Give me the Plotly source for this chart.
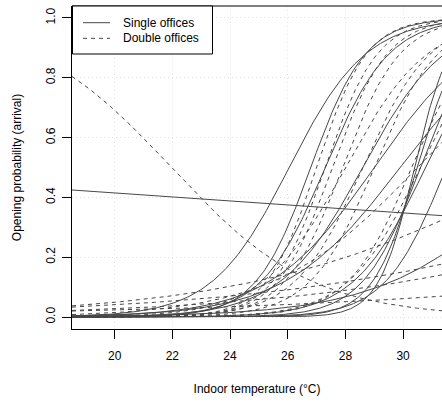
import numpy as np
import plotly.graph_objects as go

# Logistic curves: p = 1 / (1 + exp(-slope * (T - midpoint)))
# Parameters (midpoint temperature in °C, slope per °C)
single_mid = [26.05, 26.8, 27.3, 28.6, 29.0, 29.9, 30.6, 30.48, 30.4, 30.78, 31.5, 34.8, 7.85]
single_slope = [0.75, 1.05, 0.9, 0.7, 0.55, 0.5, 1.0, 1.3, 1.6, 0.8, 0.95, 0.387, -0.0284]

double_mid = [27.0, 27.3, 27.55, 27.9, 28.0, 28.6, 29.0, 30.3, 30.6, 30.5, 35.1, 42.1, 43.0, 57.0, 21.97]
double_slope = [1.15, 1.1, 1.05, 1.0, 0.7, 0.85, 0.9, 0.9, 0.8, 0.4, 0.196, 0.143, 0.155, 0.101, -0.41]

series_names = ["Single offices", "Double offices"]
x_ticks = [20, 22, 24, 26, 28, 30]
y_ticks = [0.0, 0.2, 0.4, 0.6, 0.8, 1.0]
x_range = [18.52, 31.35]
y_range = [-0.04, 1.04]

temps = np.linspace(x_range[0], x_range[1], 260)


def build(mids, slopes):
    xs, ys = [], []
    for m, s in zip(mids, slopes):
        p = 1.0 / (1.0 + np.exp(-s * (temps - m)))
        xs.extend(temps.tolist() + [None])
        ys.extend(p.tolist() + [None])
    return xs, ys


line_col = "#474747"
dash_pat = "4px,4px"
fig = go.Figure()
sx, sy = build(single_mid, single_slope)
dx, dy = build(double_mid, double_slope)
fig.add_trace(go.Scatter(x=sx, y=sy, mode="lines", name=series_names[0], showlegend=False,
                         line=dict(color=line_col, width=1)))
fig.add_trace(go.Scatter(x=dx, y=dy, mode="lines", name=series_names[1], showlegend=False,
                         line=dict(color=line_col, width=1, dash=dash_pat)))

font = dict(family="Liberation Sans, Arial, Helvetica, sans-serif", size=12, color="black")

# Plot area in pixels: x 72..442, y 6..329
L, T, B, W = 72.0, 6.0, 329.0, 370.0
H = B - T


def px(x):
    return (x - L) / W


def py(y):
    return (B - y) / H


shapes = [
    dict(type="line", xref="paper", yref="paper", x0=0, x1=1, y0=1, y1=1,
         line=dict(color="black", width=1)),
    # legend box
    dict(type="rect", xref="paper", yref="paper", x0=px(72.5), x1=px(212.5), y0=py(54), y1=1,
         fillcolor="white", line=dict(color="black", width=1), layer="above"),
    dict(type="line", xref="paper", yref="paper", x0=px(83), x1=px(110), y0=py(22.7), y1=py(22.7),
         line=dict(color=line_col, width=1), layer="above"),
    dict(type="line", xref="paper", yref="paper", x0=px(83), x1=px(110), y0=py(38.3), y1=py(38.3),
         line=dict(color=line_col, width=1, dash=dash_pat), layer="above"),
]
annotations = [
    dict(xref="paper", yref="paper", x=px(120.5), y=py(22.7), text=series_names[0], showarrow=False,
         xanchor="left", yanchor="middle", font=dict(size=12, color="black")),
    dict(xref="paper", yref="paper", x=px(120.5), y=py(38.3), text=series_names[1], showarrow=False,
         xanchor="left", yanchor="middle", font=dict(size=12, color="black")),
]

fig.update_layout(
    width=442, height=403,
    margin=dict(l=72, r=0, t=6, b=74),
    paper_bgcolor="white", plot_bgcolor="white",
    font=font,
    showlegend=False,
    xaxis=dict(range=x_range, tickvals=x_ticks, ticktext=[str(v) for v in x_ticks],
               ticks="outside", ticklen=9, tickcolor="black", tickwidth=1,
               ticklabelstandoff=7,
               showline=True, linecolor="black", linewidth=1,
               showgrid=True, gridcolor="#e2e2e2", griddash="1px,3px", gridwidth=1,
               zeroline=False,
               title=dict(text="Indoor temperature (°C)", standoff=22, font=dict(size=12)),
               automargin=False),
    yaxis=dict(range=y_range, tickvals=y_ticks, tickformat=".1f", tickangle=-90,
               ticks="outside", ticklen=9, tickcolor="black", tickwidth=1,
               ticklabelstandoff=2,
               showline=True, linecolor="black", linewidth=1,
               showgrid=True, gridcolor="#e2e2e2", griddash="1px,3px", gridwidth=1,
               zeroline=False,
               title=dict(text="Opening probability (arrival)", standoff=20, font=dict(size=12)),
               automargin=False),
    shapes=shapes,
    annotations=annotations,
)

fig.write_html("out.html")
